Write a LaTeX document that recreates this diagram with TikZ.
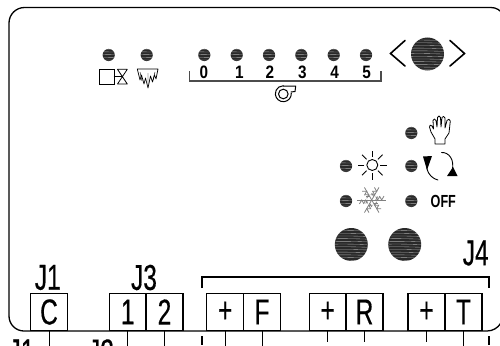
\documentclass[tikz,border=0pt]{standalone}
\usepackage{fontspec}
\setmainfont{Liberation Sans}
\newfontfamily\narrowf[FakeStretch=0.68,FakeBold=0.4]{Liberation Sans}
\newfontfamily\digitf[FakeStretch=0.85]{Liberation Sans}
\newfontfamily\offf[FakeStretch=0.72]{Liberation Sans}
\definecolor{ledc}{gray}{0.16}
\tikzset{
  px/.style={x=1pt,y=-1pt},
  stripes/.style={path picture={
    \foreach \yy in {-16,-13.3,...,16}
      \draw[white,opacity=.6,line width=.35pt] ([shift={(-18pt,\yy pt)}]path picture bounding box.center)
        .. controls +(10pt,1pt) and +(18pt,-1.2pt) .. +(36pt,0pt);
  }},
  ledsmall/.style={circle,fill=ledc,minimum size=12.2pt,inner sep=0pt,stripes},
  knob/.style={circle,fill=ledc,minimum size=33pt,inner sep=0pt,stripes},
  termbox/.style={draw,line width=1.2pt,minimum width=37pt,minimum height=37pt,inner sep=0pt,font=\narrowf\fontsize{36}{36}\selectfont},
  lab/.style={font=\narrowf\fontsize{36}{36}\selectfont,inner sep=0pt},
  digit/.style={font=\digitf\bfseries\fontsize{18}{18}\selectfont,inner sep=0pt},
  wire/.style={line width=1pt},
  outline/.style={line width=1.3pt},
  sym/.style={line width=.8pt,line join=round,line cap=round},
  snowline/.style={black!50,line width=.8pt},
}
\begin{document}
\begin{tikzpicture}[px]
\useasboundingbox (0,0) rectangle (500,345);
\fill[white] (0,0) rectangle (500,345);
% panel outline
\draw[outline] (9,316) -- (9,23) arc[start angle=180,end angle=90,radius=15.5pt] -- (491,7.5) arc[start angle=90,end angle=30,radius=14pt];
\draw[outline] (9,316) arc[start angle=180,end angle=270,radius=15pt] -- (487,331) arc[start angle=-90,end angle=-30,radius=16pt];
% LEDs
\foreach \n/\x/\y in {a/108.7/55,b/146.7/55,c/204.3/55,d/236.7/55,e/269/55,f/301.3/55,g/333.7/55,h/366/55,
  i/411.3/133,j/346/166,k/411.3/166,l/346/201,m/411.3/201}
  \node[ledsmall] (led\n) at (\x,\y) {};
% knobs
\node[knob] (knob1) at (427.5,54) {};
\node[knob] (knob2) at (351.3,244.5) {};
\node[knob] (knob3) at (404.7,244.5) {};
% chevrons
\draw[line width=1.6pt,line cap=round] (405,40.5) -- (390.5,53.5) -- (405,66);
\draw[line width=1.6pt,line cap=round] (450,40.5) -- (464.5,53.5) -- (450,66);
% fan scale
\draw[line width=1.3pt,draw=black!70] (189.5,71) -- (189.5,81) -- (381,81) -- (381,71);
\foreach \t/\x in {0/204,1/239.5,2/270,3/302.3,4/334.7,5/366.7}
  \node[digit] (d\t) at (\x,72.3) {\t};
% fan icon
\draw[line width=1pt] (283.3,94) circle (4.8pt);
\draw[sym,line width=1pt] (283,86) -- (295.7,86) -- (295,91.5) -- (291,92);
\draw[sym,line width=1pt] (291.3,93) arc[start angle=5,end angle=-270,radius=8pt];
% valve icon
\draw[line width=1pt] (99.5,69.5) rectangle (114.3,84);
\draw[sym] (114.3,76.7) -- (122.3,76.7);
\draw[sym] (117.5,69.3) -- (127.3,69.3) -- (117.5,84) -- (127.3,84) -- cycle;
% icicle icon
\draw[sym,line width=.7pt] (137.3,69) -- (158,69) -- (156,79) -- (154.5,75) -- (152.5,82) -- (150.5,76) -- (148,88) -- (145.5,78) -- (144,84) -- (141.5,75) -- (140,80) -- cycle;
\draw[line width=.4pt] (140,72) -- (142,81) (155,72) -- (153,80) (148,73) -- (148,85);
% hand icon
\draw[sym] (435,144) -- (435,139) -- (431,132) -- (429.5,127) .. controls (429,125) and (431,124.5) .. (432,126) -- (433.5,129)
 -- (433,120.5) .. controls (433,118.5) and (435.5,118.5) .. (436,120.5) -- (437,127)
 -- (437.5,117.5) .. controls (437.7,115.5) and (440.3,115.5) .. (440.5,117.5) -- (441,127)
 -- (442,117.5) .. controls (442.3,116) and (445,116) .. (445,118) -- (445,128)
 -- (447,120.5) .. controls (447.5,118.5) and (450.5,119) .. (450.3,121) -- (449,133) -- (445,139) -- (445,144) -- cycle;
% rotate arrows
\draw[sym,line width=.9pt] (427,161) .. controls (425,170) and (430,178) .. (438,180);
\fill (423,156.5) -- (432,156) -- (427,170) -- cycle;
\draw[sym,line width=.9pt] (441.5,152.5) .. controls (449,152) and (455,160) .. (452,171);
\fill (447,176) -- (457.5,176) -- (453,167) -- cycle;
% sun
\draw[line width=.9pt] (372.3,165) circle (5.5pt);
\foreach \a in {0,45,...,315}
  \draw[line width=.9pt] (372.3,165) ++(\a:8pt) -- ++(\a:6.5pt);
% snow
\foreach \a in {0,60,...,300} {
  \draw[snowline] (371.7,200) -- ++(\a:14.5pt);
  \draw[snowline] (371.7,200) ++(\a:10pt) ++(\a+60:4.5pt) -- ++(\a+240:4.5pt) -- ++(\a+120:4.5pt);
  \draw[snowline] (371.7,200) ++(\a:6pt) ++(\a+60:4pt) -- ++(\a+240:4pt) -- ++(\a+120:4pt);
  \draw[snowline] (371.7,200) ++(\a:4pt) -- ++(\a+60:4pt);
}
% off
\node[digit,font=\offf\bfseries\fontsize{17.5}{18}\selectfont] (off) at (443.3,201.7) {OFF};
% J labels
\node[lab] (j1) at (47.8,277.5) {J1};
\node[lab] (j3) at (144,277.5) {J3};
\node[lab] (j4) at (475.7,253) {J4};
% terminals
\foreach \n/\t/\x in {tc/C/49,t1/1/127.7,t2/2/164.5,tp1/+/225.2,tf/F/262,tp2/+/327.7,tr/R/364.5,tp3/+/426.5,tt/T/463.5}
  \node[termbox] (\n) at (\x,312) {\t};
\foreach \n/\h in {tc/15,t1/15,t2/15,tp1/15,tf/15,tp2/11,tr/11,tp3/11,tt/15}
  \draw[wire] (\n.south) -- ++(0,\h);
% J4 bracket
\draw[line width=1.2pt] (202,288) -- (202,277) -- (489,277) -- (489,288);
\draw[line width=1.2pt] (202,336) -- (202,345);
\draw[line width=1.2pt] (489,336) -- (489,345);
% clipped bottom labels
\begin{scope}
\clip (0,0) rectangle (500,345);
\node[lab] (j1b) at (21.5,352) {J1};
\node[lab] (j2b) at (101,352) {J2};
\end{scope}
\end{tikzpicture}
\end{document}
